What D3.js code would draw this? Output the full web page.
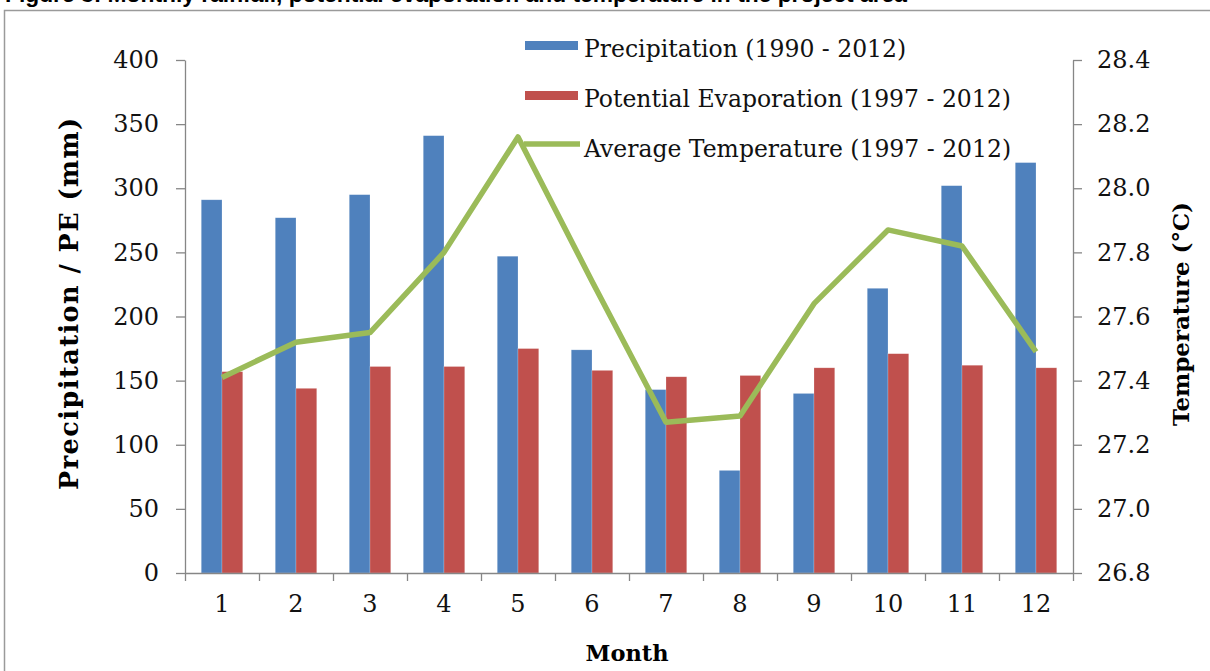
<!DOCTYPE html>
<html>
<head>
<meta charset="utf-8">
<script src="https://cdn.jsdelivr.net/npm/d3@7/dist/d3.min.js"></script>
<style>
  body { margin: 0; background: #fff; }
  svg { display: block; }
</style>
</head>
<body>
<svg id="chart" width="1210" height="671"></svg>
<script>
const months = ['1', '2', '3', '4', '5', '6', '7', '8', '9', '10', '11', '12'];
const precipitation = [291, 277, 295, 341, 247, 174, 143, 80, 140, 222, 302, 320];
const evaporation = [157, 144, 161, 161, 175, 158, 153, 154, 160, 171, 162, 160];
const temperature = [27.41, 27.52, 27.55, 27.80, 28.16, 27.71, 27.27, 27.29, 27.64, 27.87, 27.82, 27.49];
const leftTicks = [0, 50, 100, 150, 200, 250, 300, 350, 400];
const rightTicks = [26.8, 27.0, 27.2, 27.4, 27.6, 27.8, 28.0, 28.2, 28.4];
const legendItems = [
  { label: 'Precipitation (1990 - 2012)', color: '#4F81BD', kind: 'bar' },
  { label: 'Potential Evaporation (1997 - 2012)', color: '#C0504D', kind: 'bar' },
  { label: 'Average Temperature (1997 - 2012)', color: '#9BBB59', kind: 'line' }
];

const svg = d3.select('#chart');
const serif = '"DejaVu Serif", serif';
const axisColor = '#868686';

const plotLeft = 185;
const plotRight = 1073;
const plotTop = 60;
const plotBottom = 573;

// figure caption, cut off by the top edge as in the source, and frame
svg.append('text')
  .attr('x', 5)
  .attr('y', 1.5)
  .attr('font-family', '"Liberation Sans", Arial, sans-serif')
  .attr('font-weight', 'bold')
  .attr('font-size', 22.8)
  .text('Figure 3: Monthly rainfall, potential evaporation and temperature in the project area');

svg.append('rect')
  .attr('x', 4.5)
  .attr('y', 10.5)
  .attr('width', 1220)
  .attr('height', 700)
  .attr('fill', 'none')
  .attr('stroke', '#9a9a9a')
  .attr('stroke-width', 1.5);

const x = d3.scaleBand().domain(months).range([plotLeft, plotRight]);
const xInner = d3.scaleBand().domain(['p', 'pe']).range([0, 41.5]);
const xEdges = d3.scaleLinear().domain([0.5, 12.5]).range([plotLeft, plotRight]);
const yLeft = d3.scaleLinear().domain([0, 400]).range([plotBottom, plotTop]);
const yRight = d3.scaleLinear().domain([26.8, 28.4]).range([plotBottom, plotTop]);

const groupOffset = (x.bandwidth() - xInner.range()[1]) / 2;

// bars
const bars = svg.append('g');
const seriesBars = [
  { key: 'p', values: precipitation, color: '#4F81BD' },
  { key: 'pe', values: evaporation, color: '#C0504D' }
];
seriesBars.forEach((s) => {
  bars.selectAll(null)
    .data(s.values)
    .join('rect')
    .attr('x', (d, i) => x(months[i]) + groupOffset + xInner(s.key))
    .attr('y', (d) => yLeft(d))
    .attr('width', xInner.bandwidth())
    .attr('height', (d) => yLeft(0) - yLeft(d))
    .attr('fill', s.color)
    .attr('stroke', 'rgba(255,255,255,0.35)')
    .attr('stroke-width', 0.6);
});

// axes
function styleAxis(g) {
  g.selectAll('path, line').attr('stroke', axisColor).attr('stroke-width', 1.3);
  g.selectAll('text')
    .attr('font-family', serif)
    .attr('font-size', 24)
    .attr('fill', '#111');
}

svg.append('g')
  .attr('transform', `translate(${plotLeft},0)`)
  .call(d3.axisLeft(yLeft).tickValues(leftTicks).tickSize(9).tickSizeOuter(0).tickPadding(17))
  .call(styleAxis);

svg.append('g')
  .attr('transform', `translate(${plotRight},0)`)
  .call(d3.axisRight(yRight).tickValues(rightTicks).tickFormat(d3.format('.1f')).tickSize(9).tickSizeOuter(0).tickPadding(15))
  .call(styleAxis);

svg.append('g')
  .attr('transform', `translate(0,${plotBottom})`)
  .call(d3.axisBottom(xEdges).tickValues(d3.range(0.5, 13, 1)).tickFormat('').tickSize(8).tickSizeOuter(0))
  .call(styleAxis);

svg.append('g')
  .attr('transform', `translate(0,${plotBottom})`)
  .call(d3.axisBottom(x).tickSize(0).tickPadding(22))
  .call(styleAxis)
  .call((g) => g.select('.domain').remove());

// temperature line
const line = d3.line()
  .x((d, i) => x(months[i]) + x.bandwidth() / 2)
  .y((d) => yRight(d));

svg.append('path')
  .datum(temperature)
  .attr('d', line)
  .attr('fill', 'none')
  .attr('stroke', '#9BBB59')
  .attr('stroke-width', 5.5)
  .attr('stroke-linejoin', 'round');

// axis titles
svg.append('text')
  .attr('transform', 'translate(78,304) rotate(-90)')
  .attr('text-anchor', 'middle')
  .attr('font-family', serif)
  .attr('font-weight', 'bold')
  .attr('font-size', 25.5)
  .attr('textLength', 372)
  .attr('lengthAdjust', 'spacing')
  .text('Precipitation / PE (mm)');

svg.append('text')
  .attr('transform', 'translate(1189,314) rotate(-90)')
  .attr('text-anchor', 'middle')
  .attr('font-family', serif)
  .attr('font-weight', 'bold')
  .attr('font-size', 23)
  .attr('textLength', 224)
  .attr('lengthAdjust', 'spacing')
  .text('Temperature (°C)');

svg.append('text')
  .attr('x', 627)
  .attr('y', 661)
  .attr('text-anchor', 'middle')
  .attr('font-family', serif)
  .attr('font-weight', 'bold')
  .attr('font-size', 22.5)
  .text('Month');

// legend
const legend = svg.append('g').attr('transform', 'translate(524,57)');
legendItems.forEach((item, i) => {
  const row = legend.append('g').attr('transform', `translate(0,${i * 50})`);
  if (item.kind === 'bar') {
    row.append('rect')
      .attr('x', 1)
      .attr('y', -16)
      .attr('width', 53)
      .attr('height', 9)
      .attr('fill', item.color);
  } else {
    row.append('line')
      .attr('x1', 0)
      .attr('x2', 56)
      .attr('y1', -13)
      .attr('y2', -13)
      .attr('stroke', item.color)
      .attr('stroke-width', 5.5);
  }
  row.append('text')
    .attr('x', 60)
    .attr('y', 0)
    .attr('font-family', serif)
    .attr('font-size', 23.5)
    .attr('fill', '#111')
    .text(item.label);
});
</script>
</body>
</html>
